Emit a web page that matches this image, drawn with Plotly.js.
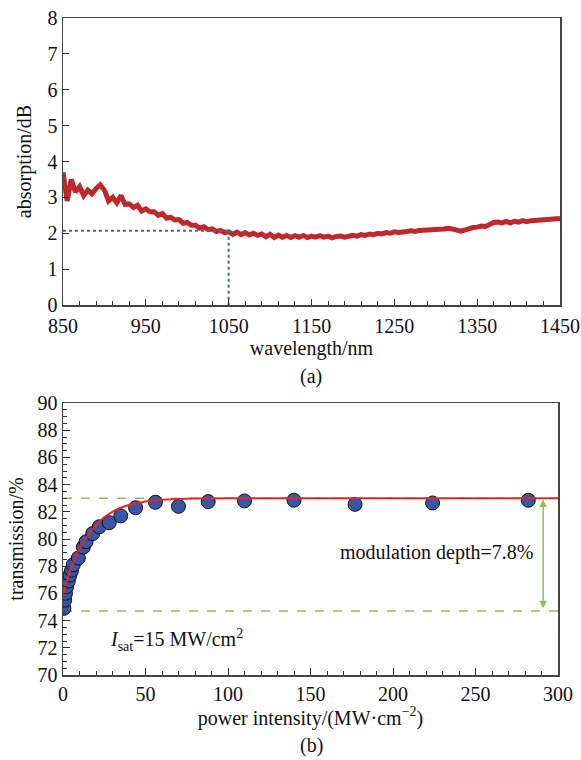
<!DOCTYPE html>
<html>
<head>
<meta charset="utf-8">
<script src="https://cdn.plot.ly/plotly-3.0.1.min.js"></script>
<style>html,body{margin:0;padding:0;background:#fff;}#chart{width:581px;height:760px;}</style>
</head>
<body>
<div id="chart"></div>
<script>
// ---- Panel (a): absorption spectrum ----
const wavelength = [];
for (let w = 850; w <= 1450; w += 5) wavelength.push(w);
const absorption = [
 3.7,2.9,3.5,3.15,3.3,3.05,3.2,3.1,3.25,3.35,
 3.2,2.9,3.0,2.85,3.05,2.8,2.82,2.72,2.78,2.62,
 2.68,2.6,2.6,2.5,2.55,2.42,2.45,2.37,2.38,2.28,
 2.3,2.22,2.22,2.14,2.18,2.1,2.12,2.05,2.08,2.02,
 2.04,1.97,2.03,1.96,2.02,1.95,2.0,1.94,1.98,1.9,
 1.97,1.88,1.95,1.89,1.94,1.88,1.93,1.89,1.94,1.88,
 1.92,1.89,1.93,1.89,1.92,1.87,1.91,1.92,1.89,1.93,
 1.94,1.92,1.96,1.94,1.98,1.96,2.0,1.98,2.02,2.0,
 2.04,2.02,2.05,2.05,2.07,2.05,2.08,2.08,2.1,2.08,
 2.11,2.11,2.12,2.14,2.12,2.1,2.06,2.09,2.13,2.16,
 2.17,2.2,2.19,2.24,2.3,2.31,2.29,2.33,2.29,2.33,
 2.31,2.35,2.32,2.35,2.36,2.34,2.37,2.38,2.39,2.38,
 2.41
];
const markWavelength = 1050;
const markAbsorption = 2.07;

// ---- Panel (b): saturable absorption ----
const intensity = [0.5,1,1.5,2.2,3.2,4.2,5.2,6.2,9.3,12.3,14,18,22,28,35,44,56,70,88,110,140,177,224,282];
const transmission = [74.9,75.5,76.0,76.5,76.9,77.35,77.7,78.1,78.6,79.4,79.8,80.4,80.9,81.2,81.7,82.3,82.7,82.4,82.75,82.8,82.85,82.55,82.65,82.85];
const fitIntensity = [0,1,2,3,5,7,10,13,16,20,25,30,35,40,50,60,70,80,100,150,200,250,300];
const fitTransmission = [75.8,76.3,76.8,77.2,77.9,78.5,79.3,79.9,80.4,81.0,81.6,82.0,82.3,82.5,82.75,82.88,82.94,82.97,83.0,83.0,83.0,83.0,83.0];
const levelHigh = 83.0;
const levelLow = 74.7;
const arrowIntensity = 291;

const W = 581, H = 760;
const px = v => v / W;
const py = v => 1 - v / H;
const FONT = 'Liberation Serif, Times New Roman, serif';
const FS = 20;
const green = '#8cc152';

const axisCommon = {
  showline: true, mirror: true, linecolor: '#444', linewidth: 1.5,
  ticks: 'inside', tickcolor: '#333', showgrid: false, zeroline: false,
  tickfont: {family: FONT, size: FS, color: '#111'}
};

const traces = [
  {x: wavelength, y: absorption, xaxis: 'x', yaxis: 'y', mode: 'lines',
   line: {color: '#c0282b', width: 5}, hoverinfo: 'skip'},
  {x: [850, markWavelength], y: [markAbsorption, markAbsorption], xaxis: 'x', yaxis: 'y', mode: 'lines',
   line: {color: '#4a6b88', width: 2, dash: 'dot'}},
  {x: [markWavelength, markWavelength], y: [markAbsorption, 0], xaxis: 'x', yaxis: 'y', mode: 'lines',
   line: {color: '#4a6b88', width: 2, dash: 'dot'}},
  {x: [0, 300], y: [levelHigh, levelHigh], xaxis: 'x2', yaxis: 'y2', mode: 'lines',
   line: {color: green, width: 1.5, dash: 'dash'}},
  {x: [0, 300], y: [levelLow, levelLow], xaxis: 'x2', yaxis: 'y2', mode: 'lines',
   line: {color: green, width: 1.5, dash: 'dash'}},
  {x: intensity, y: transmission, xaxis: 'x2', yaxis: 'y2', mode: 'markers',
   marker: {size: 14, color: '#3a55a6', line: {color: '#111', width: 1}}},
  {x: fitIntensity, y: fitTransmission, xaxis: 'x2', yaxis: 'y2', mode: 'lines',
   line: {color: '#e8262a', width: 2, shape: 'spline'}}
];

const layout = {
  width: W, height: H, showlegend: false,
  margin: {l: 0, r: 0, t: 0, b: 0},
  paper_bgcolor: '#fff', plot_bgcolor: '#fff',
  font: {family: FONT, color: '#111'},
  xaxis: Object.assign({}, axisCommon, {
    domain: [px(63), px(560)], range: [850, 1450], anchor: 'y',
    tick0: 850, dtick: 100, ticklen: 6, ticklabelstandoff: 2,
    minor: {dtick: 20, tick0: 850, ticklen: 4, ticks: 'inside', tickcolor: '#333'},
    title: {text: 'wavelength/nm', font: {family: FONT, size: FS}, standoff: 4}
  }),
  yaxis: Object.assign({}, axisCommon, {
    domain: [py(305), py(18)], range: [0, 8], anchor: 'x',
    dtick: 1, ticklen: 6,
    title: {text: 'absorption/dB', font: {family: FONT, size: FS}, standoff: 10}
  }),
  xaxis2: Object.assign({}, axisCommon, {
    domain: [px(63), px(558)], range: [0, 300], anchor: 'y2',
    dtick: 50, ticklen: 7,
    minor: {dtick: 10, ticklen: 4, ticks: 'inside', tickcolor: '#333'},
    title: {text: 'power intensity/(MW·cm<sup>−2</sup>)', font: {family: FONT, size: FS}, standoff: 4}
  }),
  yaxis2: Object.assign({}, axisCommon, {
    domain: [py(675), py(403)], range: [70, 90], anchor: 'x2',
    dtick: 2, ticklen: 7,
    minor: {dtick: 0.5, ticklen: 4, ticks: 'inside', tickcolor: '#333'},
    title: {text: 'transmission/%', font: {family: FONT, size: FS}, standoff: 8}
  }),
  annotations: [
    {xref: 'paper', yref: 'paper', x: px(311), y: py(377), text: '(a)', showarrow: false,
     font: {family: FONT, size: FS}, xanchor: 'center', yanchor: 'middle'},
    {xref: 'paper', yref: 'paper', x: px(311), y: py(745), text: '(b)', showarrow: false,
     font: {family: FONT, size: FS}, xanchor: 'center', yanchor: 'middle'},
    {xref: 'x2', yref: 'y2', x: 286, y: 79.0, text: 'modulation depth=7.8%', showarrow: false,
     font: {family: FONT, size: FS}, xanchor: 'right', yanchor: 'middle'},
    {xref: 'x2', yref: 'y2', x: 27, y: 72.6, text: '<i>I</i><sub>sat</sub>=15 MW/cm<sup>2</sup>', showarrow: false,
     font: {family: FONT, size: FS}, xanchor: 'left', yanchor: 'middle'},
    {xref: 'x2', yref: 'y2', axref: 'x2', ayref: 'y2', x: arrowIntensity, y: levelHigh - 0.1,
     ax: arrowIntensity, ay: levelLow + 0.1, text: '', showarrow: true,
     arrowhead: 2, startarrowhead: 2, arrowside: 'end+start', arrowsize: 1, arrowwidth: 1.5, arrowcolor: green}
  ]
};

Plotly.newPlot('chart', traces, layout, {staticPlot: true});
</script>
</body>
</html>
